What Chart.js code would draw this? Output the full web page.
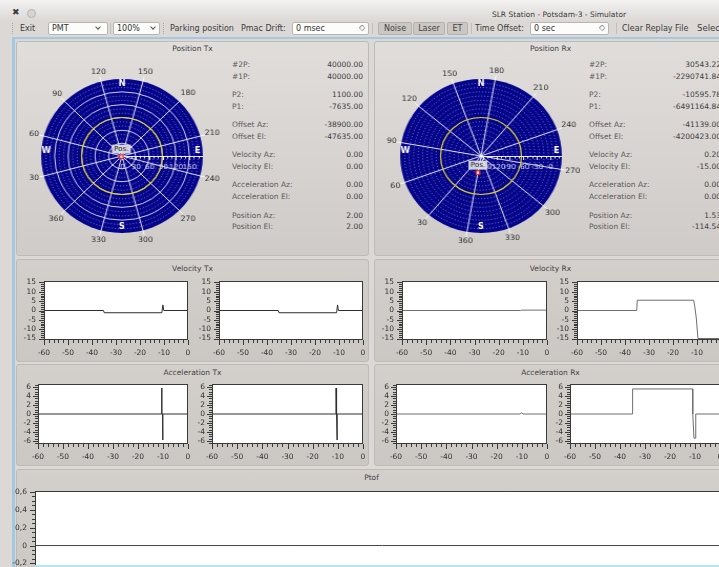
<!DOCTYPE html>
<html lang="en">
<head>
<meta charset="utf-8">
<title>SLR Station - Potsdam-3 - Simulator</title>
<script src="https://cdn.jsdelivr.net/npm/chart.js@4.4.1/dist/chart.umd.min.js"></script>
<style>
  html, body { margin: 0; padding: 0; }
  body {
    width: 719px; height: 567px; overflow: hidden; position: relative;
    background: #dbd8d5; font-family: "DejaVu Sans", sans-serif; font-size: 7.5px; color: #333;
  }
  .a { position: absolute; white-space: nowrap; }
  .titlebar { left: 0; top: 0; width: 719px; height: 21px; background: linear-gradient(#f3f2f1, #dbd8d5); }
  .tb { font-size: 8px; top: 22px; height: 13px; line-height: 13px; color: #3c3c3c; }
  .box { box-sizing: border-box; top: 22px; height: 13px; line-height: 11px; font-size: 8px;
         border: 1px solid #b9b5b1; border-radius: 2px; background: #fcfcfb; padding-left: 3px; color: #333; }
  .btn { box-sizing: border-box; top: 22px; height: 13px; line-height: 11px; font-size: 8px; text-align: center;
         border: 1px solid #b5b1ad; border-radius: 2px; background: #cbc7c3; color: #444; }
  .chev { position: absolute; top: 2px; width: 3px; height: 3px; border-right: 1px solid #555; border-bottom: 1px solid #555; transform: rotate(45deg); }
  .spin { position: absolute; top: -1px; font-size: 8px; color: #555; }
  .sep { top: 23px; width: 1px; height: 11px; background: #c2beba; }
  .grip { top: 23px; width: 0; height: 11px; border-left: 1px dotted #a9a5a1; }
  .frame { left: 12px; top: 37px; width: 720px; height: 540px; border-top: 2px solid #a3c8e6; border-left: 3px solid #a3c8e6; box-sizing: border-box; }
  .panel { box-sizing: border-box; border: 1px solid #bebab6; border-radius: 3px; background: linear-gradient(#e0dddb, #cfcbc8); }
  .cpanel { box-sizing: border-box; border: 1px solid #bebab6; border-radius: 3px; background: linear-gradient(#d3cfcb, #cbc7c3); }
  .ptitle { text-align: center; color: #444; font-size: 7.5px; }
  .rl { color: #5c5c5c; }
  .rv { color: #404040; text-align: right; }
  canvas.a { display: block; }
</style>
</head>
<body>
<div class="a titlebar"></div>
<div class="a" style="left:12px;top:7px;font-size:9px;color:#3a3a3a">&#10006;</div>
<div class="a" style="left:27px;top:9px;width:9px;height:9px;border-radius:50%;background:#d4d4d4;border:1px solid #b3b3b3;box-sizing:border-box"></div>
<div class="a" style="left:0;top:10px;width:1118px;text-align:center;color:#3a3a3a;line-height:10px">SLR Station - Potsdam-3 - Simulator</div>

<div class="a grip" style="left:12px"></div>
<div class="a tb" style="left:20px">Exit</div>
<div class="a box" style="left:48px;width:60px">PMT<span class="chev" style="left:47px"></span></div>
<div class="a sep" style="left:110px"></div>
<div class="a box" style="left:113px;width:47px">100%<span class="chev" style="left:37px"></span></div>
<div class="a grip" style="left:163px"></div>
<div class="a tb" style="left:170px">Parking position</div>
<div class="a tb" style="left:241px">Pmac Drift:</div>
<div class="a box" style="left:292px;width:77px">0 msec<span class="spin" style="left:66px">&#9671;</span></div>
<div class="a sep" style="left:372px"></div>
<div class="a btn" style="left:378px;width:34px">Noise</div>
<div class="a btn" style="left:413px;width:32px">Laser</div>
<div class="a btn" style="left:447px;width:21px">ET</div>
<div class="a sep" style="left:471px"></div>
<div class="a tb" style="left:475px">Time Offset:</div>
<div class="a box" style="left:530px;width:79px">0 sec<span class="spin" style="left:68px">&#9671;</span></div>
<div class="a sep" style="left:616px"></div>
<div class="a tb" style="left:622px">Clear Replay File</div>
<div class="a tb" style="left:697px;font-size:8.5px">Select</div>

<div class="a frame"></div>

<div class="a panel" style="left:16px;top:41px;width:353px;height:215px"></div>
<div class="a panel" style="left:374px;top:41px;width:353px;height:215px"></div>
<div class="a ptitle" style="left:16px;top:44px;width:353px">Position Tx</div>
<div class="a ptitle" style="left:374px;top:44px;width:353px">Position Rx</div>

<div class="a cpanel" style="left:16px;top:259px;width:353px;height:103px"></div>
<div class="a cpanel" style="left:374px;top:259px;width:353px;height:103px"></div>
<div class="a ptitle" style="left:16px;top:264px;width:353px">Velocity Tx</div>
<div class="a ptitle" style="left:374px;top:264px;width:353px">Velocity Rx</div>

<div class="a cpanel" style="left:16px;top:364px;width:353px;height:102px"></div>
<div class="a cpanel" style="left:374px;top:364px;width:353px;height:102px"></div>
<div class="a ptitle" style="left:16px;top:368px;width:353px">Acceleration Tx</div>
<div class="a ptitle" style="left:374px;top:368px;width:353px">Acceleration Rx</div>

<div class="a cpanel" style="left:16px;top:469px;width:711px;height:120px"></div>
<div class="a ptitle" style="left:16px;top:473px;width:711px">Ptof</div>
<div id="readouts"></div>

<script>
// ---------------------------------------------------------------------------
// Readout panels (mount status)
// ---------------------------------------------------------------------------
const readoutLabels = ['#2P:', '#1P:', 'P2:', 'P1:', 'Offset Az:', 'Offset El:',
                       'Velocity Az:', 'Velocity El:', 'Acceleration Az:', 'Acceleration El:',
                       'Position Az:', 'Position El:'];
const txReadout = ['40000.00', '40000.00', '1100.00', '-7635.00', '-38900.00', '-47635.00',
                   '0.00', '0.00', '0.00', '0.00', '2.00', '2.00'];
const rxReadout = ['30543.22', '-2290741.84', '-10595.78', '-6491164.84', '-41139.00', '-4200423.00',
                   '0.20', '-15.00', '0.00', '0.00', '1.53', '-114.54'];

// ---------------------------------------------------------------------------
// Polar sky plots: azimuth spokes (clockwise from the first spoke) and radial ranges
// ---------------------------------------------------------------------------
const txAzLabels = ['150', '180', '210', '240', '270', '300', '330', '360', '30', '60', '90', '120'];
const rxAzLabels = ['180', '210', '240', '270', '300', '330', '360', '30', '60', '90', '120', '150'];
const txRadial = [0, 180];      // centre, rim
const rxRadial = [-154, 26];
const txRing = 90;              // yellow horizon ring
const rxRing = -64;

// ---------------------------------------------------------------------------
// 60 s histories (time in s, value)
// ---------------------------------------------------------------------------
const velTxAzTime = [-60, -35.2, -34.9, -10.9, -10.45, -10.1, 0];
const velTxAzVal  = [0, 0, -1.2, -1.2, 3.0, 0, 0];
const velTxElTime = [-60, -35.3, -35.0, -11.0, -10.6, -10.25, 0];
const velTxElVal  = [0, 0, -1.2, -1.2, 3.0, 0, 0];

const velRxAzTime = [-60, -10.9, -10.6, 0];
const velRxAzVal  = [0, 0, 0.2, 0.2];
const velRxElTime = [-60, -35.1, -34.9, -11.4, -10.9, -10.3, -9.6, 0];
const velRxElVal  = [0, 0, 5.5, 5.5, 2.0, -4.0, -15.0, -15.0];

const accTxAzTime = [-60, -10.55, -10.5, -10.45, -10.15, -10.1, -10.05, 0];
const accTxAzVal  = [0, 0, 5.8, 0, 0, -5.8, 0, 0];
const accTxElTime = [-60, -10.75, -10.7, -10.65, -10.35, -10.3, -10.25, 0];
const accTxElVal  = [0, 0, 5.8, 0, 0, -5.8, 0, 0];

const accRxAzTime = [-60, -10.6, -10.1, -9.6, 0];
const accRxAzVal  = [0, 0, 0.3, 0, 0];
const accRxElTime = [-60, -35.0, -34.95, -10.95, -10.9, -10.4, -9.9, -9.7, 0];
const accRxElVal  = [0, 0, 5.6, 5.6, 0, -5.4, -5.4, 0, 0];

const ptofTime = [-60, 0];
const ptofVal  = [0, 0];

// ---------------------------------------------------------------------------
Chart.defaults.font.family = '"DejaVu Sans", sans-serif';
Chart.defaults.font.size = 7.5;
Chart.defaults.color = '#333';

// Readout text
(function () {
  const host = document.getElementById('readouts');
  const put = (x, y, w, cls, text) => {
    const d = document.createElement('div');
    d.className = 'a ' + cls;
    d.style.left = x + 'px';
    d.style.top = (y - 5) + 'px';
    if (w) d.style.width = w + 'px';
    d.textContent = text;
    host.appendChild(d);
  };
  readoutLabels.forEach((lab, i) => {
    const y = 65 + Math.floor(i / 2) * 30.1 + (i % 2) * 11.8;
    put(232, y, 0, 'rl', lab);
    put(293, y, 70, 'rv', txReadout[i]);
    put(589, y, 0, 'rl', lab);
    put(641, y, 80, 'rv', rxReadout[i]);
  });
})();

// Grid, compass letters, radial scale, ring and spoke labels for the sky plots
const polarDecor = {
  id: 'polarDecor',
  beforeDatasetsDraw(chart, args, o) {
    const s = chart.scales.r;
    const ctx = chart.ctx;
    const cx = s.xCenter, cy = s.yCenter, R = s.drawingArea;
    ctx.save();
    // spokes continue a little past the rim
    ctx.strokeStyle = 'rgba(250,250,255,0.95)';
    ctx.lineWidth = 1;
    s._pointLabels.forEach((lab, i) => {
      const p0 = s.getPointPosition(i, R);
      const p1 = s.getPointPosition(i, R + 5);
      ctx.beginPath(); ctx.moveTo(p0.x, p0.y); ctx.lineTo(p1.x, p1.y); ctx.stroke();
    });
    // spoke labels
    ctx.font = '7.5px "DejaVu Sans"';
    ctx.fillStyle = '#2e2e2e';
    ctx.textAlign = 'center';
    ctx.textBaseline = 'middle';
    s._pointLabels.forEach((lab, i) => {
      const ang = s.getIndexAngle(i);
      const w = ctx.measureText(lab).width;
      const off = 4 + Math.abs(Math.sin(ang)) * w / 2 + Math.abs(Math.cos(ang)) * 4;
      const p = s.getPointPosition(i, R + off);
      ctx.fillText(lab, p.x, p.y);
    });
    // horizon ring
    ctx.strokeStyle = '#dcd12c';
    ctx.lineWidth = 1.2;
    ctx.beginPath();
    ctx.arc(cx, cy, s.getDistanceFromCenterForValue(o.ring), 0, Math.PI * 2);
    ctx.stroke();
    // radial axis towards east
    ctx.strokeStyle = 'rgba(245,245,255,0.95)';
    ctx.lineWidth = 1;
    ctx.beginPath(); ctx.moveTo(cx, cy + 0.5); ctx.lineTo(cx + R, cy + 0.5); ctx.stroke();
    const lo = s.min, hi = s.max;
    const first = Math.ceil(lo / 10) * 10;
    ctx.font = '7px "DejaVu Sans"';
    ctx.fillStyle = '#d6d6ee';
    for (let v = first; v < hi; v += 10) {
      const x = Math.round(cx + s.getDistanceFromCenterForValue(v)) + 0.5;
      const major = v % 30 === 0;
      ctx.beginPath(); ctx.moveTo(x, cy); ctx.lineTo(x, cy + (major ? 4 : 2.5)); ctx.stroke();
      if (major) ctx.fillText(String(v), x, cy + 11);
    }
    // compass letters
    ctx.font = 'bold 8px "DejaVu Sans"';
    ctx.fillStyle = '#ffffff';
    ctx.fillText('N', cx, cy - R + 5);
    ctx.fillText('S', cx, cy + R - 6);
    ctx.fillText('W', cx - R + 5, cy - 5);
    ctx.fillText('E', cx + R - 5, cy - 5);
    ctx.restore();
  },
  afterDatasetsDraw(chart) {
    const meta = chart.getDatasetMeta(0);
    const pt = meta.data.find((p, i) => chart.data.datasets[0].data[i] !== null);
    if (!pt) return;
    const ctx = chart.ctx;
    ctx.save();
    ctx.font = '7px "DejaVu Sans"';
    const w = ctx.measureText('Pos.').width + 4;
    ctx.fillStyle = 'rgba(226,226,230,0.92)';
    ctx.fillRect(pt.x - w / 2, pt.y - 12, w, 9);
    ctx.fillStyle = '#222';
    ctx.textAlign = 'center';
    ctx.textBaseline = 'middle';
    ctx.fillText('Pos.', pt.x, pt.y - 7.5);
    ctx.restore();
  }
};

function skyPlot(left, top, azLabels, startAngle, radial, ring, posAz, posEl) {
  const cv = document.createElement('canvas');
  cv.width = 194; cv.height = 194;
  cv.className = 'a';
  cv.style.left = left + 'px';
  cv.style.top = top + 'px';
  cv.style.transform = 'scaleX(1.05)';
  cv.style.transformOrigin = '97px 97px';
  document.body.appendChild(cv);
  // the spoke nearest to the current azimuth carries the position marker
  const az = Math.round((((posAz % 360) + 360) % 360) / 30) * 30 % 360;
  const idx = azLabels.findIndex(l => Number(l) % 360 === az);
  const data = azLabels.map((l, i) => (i === idx ? posEl : null));
  const major = v => Math.abs(v % 30) < 1e-9;
  new Chart(cv, {
    type: 'radar',
    data: {
      labels: azLabels,
      datasets: [{
        data, showLine: false, pointStyle: 'rect', pointRadius: 2.4,
        pointBorderColor: '#e8262b', pointBackgroundColor: '#ffffff', pointBorderWidth: 1.3
      }]
    },
    options: {
      responsive: false, animation: false, events: [],
      layout: { padding: 20 },
      plugins: { legend: { display: false }, tooltip: { enabled: false }, polarDecor: { ring } },
      scales: {
        r: {
          min: radial[0], max: radial[1], startAngle,
          backgroundColor: '#05058b',
          grid: {
            circular: true, lineWidth: 1,
            color: c => (c.tick && c.tick.value >= radial[1]) ? 'rgba(0,0,0,0)'
                      : (c.tick && major(c.tick.value)) ? 'rgba(240,240,255,0.85)' : 'rgba(210,210,250,0.55)',
            borderDash: c => (c.tick && major(c.tick.value)) ? [] : [1, 2]
          },
          border: { dash: c => (c.tick && major(c.tick.value)) ? [] : [1, 2] },
          angleLines: { color: 'rgba(245,245,255,0.9)', lineWidth: 1 },
          ticks: { display: false, stepSize: 10 },
          pointLabels: { display: false }
        }
      }
    },
    plugins: [polarDecor]
  });
}

skyPlot(25, 59, txAzLabels, 15, txRadial, txRing, parseFloat(txReadout[10]), parseFloat(txReadout[11]));
skyPlot(384, 59, rxAzLabels, 10, rxRadial, rxRing, parseFloat(rxReadout[10]), parseFloat(rxReadout[11]));

// ---------------------------------------------------------------------------
// Strip plots
// ---------------------------------------------------------------------------
const isMajor = (v, m) => { const q = v / m; return Math.abs(q - Math.round(q)) < 1e-6; };

const plotFrame = {
  id: 'plotFrame',
  beforeDraw(chart) {
    const { ctx, chartArea: a } = chart;
    ctx.save();
    ctx.fillStyle = '#ffffff';
    ctx.fillRect(a.left, a.top, a.right - a.left, a.bottom - a.top);
    ctx.restore();
  },
  afterDraw(chart) {
    const { ctx, chartArea: a } = chart;
    ctx.save();
    ctx.strokeStyle = '#3a3a3a';
    ctx.lineWidth = 1;
    const L = Math.round(a.left), T = Math.round(a.top), Rr = Math.round(a.right), B = Math.round(a.bottom);
    chart.scales.x.ticks.forEach(t => {
      const x = Math.round(chart.scales.x.getPixelForValue(t.value)) + 0.5;
      const len = t.label !== '' ? 5 : 3;
      ctx.beginPath(); ctx.moveTo(x, B); ctx.lineTo(x, B + len); ctx.stroke();
    });
    chart.scales.y.ticks.forEach(t => {
      const y = Math.round(chart.scales.y.getPixelForValue(t.value)) + 0.5;
      const len = t.label !== '' ? 5 : 3;
      ctx.beginPath(); ctx.moveTo(L, y); ctx.lineTo(L - len, y); ctx.stroke();
    });
    ctx.strokeRect(L + 0.5, T + 0.5, Rr - L - 1, B - T - 1);
    ctx.restore();
  }
};

const velAxis  = { min: -15.8, max: 15.8, step: 1, major: 5, pad: 8, fmt: v => String(Math.round(v)) };
const accAxis  = { min: -6.7, max: 6.7, step: 0.5, major: 2, pad: 7, fmt: v => String(Math.round(v)) };
const ptofAxis = { min: -0.62, max: 0.61, step: 0.05, major: 0.2, pad: 8,
                   fmt: v => Math.abs(v) < 1e-9 ? '0' : v.toFixed(1).replace('.', ',') };

// fixed axis thickness and no label overhang, so the plot box lands where it is asked to
const fixAxis = (s, size) => {
  if (s.isHorizontal()) s.height = size; else s.width = size;
  s.paddingTop = 0; s.paddingBottom = 0; s.paddingLeft = 0; s.paddingRight = 0;
};

function stripPlot(rect, yAxisW, time, values, axis, color) {
  const [l, t, r, b] = rect;
  const padTop = 4, padRight = 4, xAxisH = 22;
  const left = l - yAxisW, top = t - padTop;
  const cv = document.createElement('canvas');
  cv.width = r - left + padRight;
  cv.height = b - top + xAxisH;
  cv.className = 'a';
  cv.style.left = left + 'px';
  cv.style.top = top + 'px';
  document.body.appendChild(cv);
  new Chart(cv, {
    type: 'line',
    data: {
      datasets: [{
        data: time.map((x, i) => ({ x, y: values[i] })),
        borderColor: color, borderWidth: 1, pointRadius: 0, tension: 0, fill: false
      }]
    },
    options: {
      responsive: false, animation: false, events: [],
      layout: { padding: { top: padTop, right: padRight, left: 0, bottom: 0 } },
      plugins: { legend: { display: false }, tooltip: { enabled: false } },
      scales: {
        x: {
          type: 'linear', min: -60, max: 0,
          afterFit: s => fixAxis(s, xAxisH),
          ticks: { stepSize: 2, maxTicksLimit: 1000, autoSkip: false, maxRotation: 0, padding: 9,
                   callback: v => isMajor(v, 10) ? String(Math.round(v)) : '' },
          grid: { drawOnChartArea: false, drawTicks: false },
          border: { display: false }
        },
        y: {
          min: axis.min, max: axis.max,
          afterFit: s => fixAxis(s, yAxisW),
          ticks: { stepSize: axis.step, maxTicksLimit: 1000, autoSkip: false, includeBounds: false,
                   padding: axis.pad, callback: v => isMajor(v, axis.major) ? axis.fmt(v) : '' },
          grid: { drawOnChartArea: false, drawTicks: false },
          border: { display: false }
        }
      }
    },
    plugins: [plotFrame]
  });
}

const dark = '#2e2e2e', grey = '#6e6e6e';
stripPlot([44, 281, 188, 340], 22, velTxAzTime, velTxAzVal, velAxis, dark);
stripPlot([219, 281, 363, 340], 22, velTxElTime, velTxElVal, velAxis, dark);
stripPlot([402, 281, 547, 340], 22, velRxAzTime, velRxAzVal, velAxis, grey);
stripPlot([577, 281, 721, 340], 22, velRxElTime, velRxElVal, velAxis, grey);

stripPlot([38, 384, 188, 444], 18, accTxAzTime, accTxAzVal, accAxis, dark);
stripPlot([212, 384, 363, 444], 18, accTxElTime, accTxElVal, accAxis, dark);
stripPlot([396, 384, 547, 444], 18, accRxAzTime, accRxAzVal, accAxis, grey);
stripPlot([570, 384, 720, 444], 18, accRxElTime, accRxElVal, accAxis, grey);

stripPlot([35, 491, 730, 601], 28, ptofTime, ptofVal, ptofAxis, '#444');
</script>
<div class="a" style="left:35px;top:565px;width:700px;height:2px;background:#b3e6ee"></div>
</body>
</html>
